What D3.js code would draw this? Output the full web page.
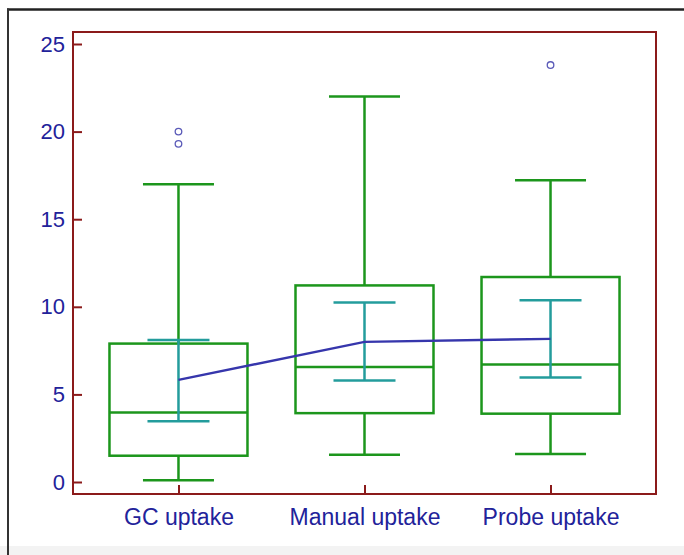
<!DOCTYPE html>
<html>
<head>
<meta charset="utf-8">
<script src="https://cdn.jsdelivr.net/npm/d3@7"></script>
<style>
  html, body { margin: 0; padding: 0; background: #ffffff; }
  svg { display: block; }
</style>
</head>
<body>
<svg id="chart" width="684" height="555"></svg>
<script>
// ---- data ----
const categories   = ["GC uptake", "Manual uptake", "Probe uptake"];
const whiskerLow   = [0.1, 1.55, 1.6];
const q1           = [1.5, 3.93, 3.9];
const medians      = [3.97, 6.57, 6.7];
const q3           = [7.9, 11.22, 11.7];
const whiskerHigh  = [17.0, 22.0, 17.22];
const means        = [5.83, 8.0, 8.17];
const ciLow        = [3.47, 5.8, 5.97];
const ciHigh       = [8.1, 10.25, 10.37];
const outliers     = [[20.0, 19.3], [], [23.8]];
const yTicks       = [0, 5, 10, 15, 20, 25];

// ---- layout ----
const svg = d3.select("#chart");
const plot = { left: 73, right: 656, top: 32, bottom: 494 };

const x = d3.scalePoint().domain(categories)
  .range([plot.left, plot.right]).padding(0.567);
const y = d3.scaleLinear().domain([-0.685, 25.685])
  .range([plot.bottom, plot.top]);

const frameCol = "#8b1a1a";
const textCol = "#22229a";
const boxCol = "#1c961c";
const ciCol = "#239c9c";
const meanCol = "#3636ac";

// outer page frame
svg.append("rect").attr("x", 0).attr("y", 546).attr("width", 684).attr("height", 9)
  .attr("fill", "#f3f3f3");
svg.append("line").attr("x1", 7).attr("x2", 684).attr("y1", 9.5).attr("y2", 9.5)
  .attr("stroke", "#222").attr("stroke-width", 2.5);
svg.append("line").attr("x1", 8).attr("x2", 8).attr("y1", 8.5).attr("y2", 555)
  .attr("stroke", "#333").attr("stroke-width", 2);

// plot frame
svg.append("rect")
  .attr("x", plot.left).attr("y", plot.top)
  .attr("width", plot.right - plot.left).attr("height", plot.bottom - plot.top)
  .attr("fill", "none").attr("stroke", frameCol).attr("stroke-width", 2);

// axes
const yAxis = d3.axisLeft(y).tickValues(yTicks).tickSizeInner(-9).tickSizeOuter(0).tickPadding(8);
const gy = svg.append("g").attr("transform", `translate(${plot.left},0)`).call(yAxis);
const xAxis = d3.axisBottom(x).tickSizeInner(-9).tickSizeOuter(0).tickPadding(15);
const gx = svg.append("g").attr("transform", `translate(0,${plot.bottom})`).call(xAxis);
[gy, gx].forEach(g => {
  g.select(".domain").remove();
  g.selectAll(".tick line").attr("stroke", frameCol).attr("stroke-width", 2);
  g.selectAll(".tick text")
    .attr("fill", textCol)
    .style("font-family", "'Liberation Sans', Arial, sans-serif")
    .style("font-size", "22px");
});
gx.selectAll(".tick text").style("font-size", "23px");

// boxes
const boxHalf = 69, capHalf = 35.5, ciHalf = 31;
const groups = svg.append("g").selectAll("g").data(categories).join("g");

groups.each(function(c, i) {
  const g = d3.select(this);
  const cx = x(c);
  // whisker stems
  g.append("line").attr("x1", cx).attr("x2", cx).attr("y1", y(q3[i])).attr("y2", y(whiskerHigh[i]))
    .attr("stroke", boxCol).attr("stroke-width", 2.5);
  g.append("line").attr("x1", cx).attr("x2", cx).attr("y1", y(q1[i])).attr("y2", y(whiskerLow[i]))
    .attr("stroke", boxCol).attr("stroke-width", 2.5);
  // caps
  [whiskerHigh[i], whiskerLow[i]].forEach(v => {
    g.append("line").attr("x1", cx - capHalf).attr("x2", cx + capHalf).attr("y1", y(v)).attr("y2", y(v))
      .attr("stroke", boxCol).attr("stroke-width", 2.5);
  });
  // box
  g.append("rect").attr("x", cx - boxHalf).attr("width", 2 * boxHalf)
    .attr("y", y(q3[i])).attr("height", y(q1[i]) - y(q3[i]))
    .attr("fill", "none").attr("stroke", boxCol).attr("stroke-width", 2.5);
  // median
  g.append("line").attr("x1", cx - boxHalf).attr("x2", cx + boxHalf).attr("y1", y(medians[i])).attr("y2", y(medians[i]))
    .attr("stroke", boxCol).attr("stroke-width", 2.5);
  // mean CI
  g.append("line").attr("x1", cx).attr("x2", cx).attr("y1", y(ciLow[i])).attr("y2", y(ciHigh[i]))
    .attr("stroke", ciCol).attr("stroke-width", 2.5);
  [ciLow[i], ciHigh[i]].forEach(v => {
    g.append("line").attr("x1", cx - ciHalf).attr("x2", cx + ciHalf).attr("y1", y(v)).attr("y2", y(v))
      .attr("stroke", ciCol).attr("stroke-width", 2.5);
  });
  // outliers
  outliers[i].forEach(v => {
    g.append("circle").attr("cx", cx).attr("cy", y(v)).attr("r", 3.3)
      .attr("fill", "none").attr("stroke", "#5a5ab8").attr("stroke-width", 1.3);
  });
});

// mean connecting line
const line = d3.line().x((d, i) => x(categories[i])).y(d => y(d));
svg.append("path").datum(means).attr("d", line)
  .attr("fill", "none").attr("stroke", meanCol).attr("stroke-width", 2.4);
</script>
</body>
</html>
